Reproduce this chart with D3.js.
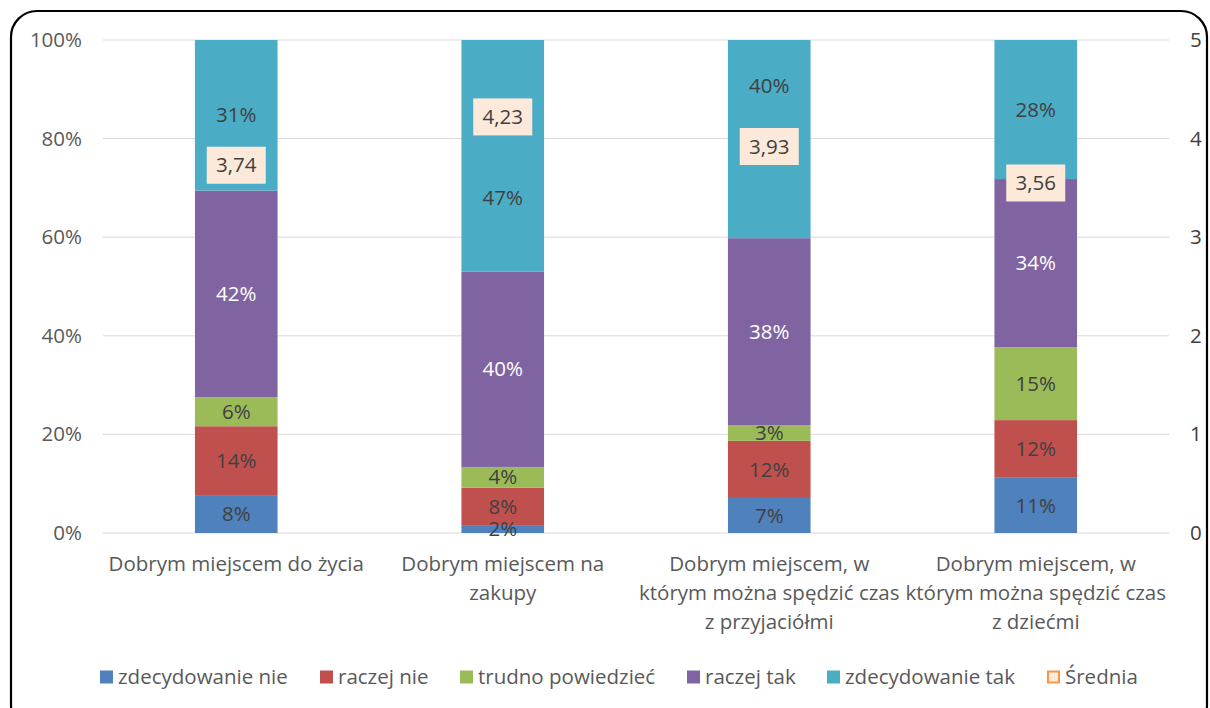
<!DOCTYPE html>
<html>
<head>
<meta charset="utf-8">
<script src="https://cdn.jsdelivr.net/npm/d3@7"></script>
<style>
  body { margin: 0; background: #fff; }
  svg text { font-family: "Open Sans", sans-serif; }
</style>
</head>
<body>
<div id="chart"></div>
<script>
// Categories (already wrapped into lines as in the original)
const categories = [
  ["Dobrym miejscem do życia"],
  ["Dobrym miejscem na", "zakupy"],
  ["Dobrym miejscem, w", "którym można spędzić czas", "z przyjaciółmi"],
  ["Dobrym miejscem, w", "którym można spędzić czas", "z dziećmi"]
];

const seriesNames = ["zdecydowanie nie", "raczej nie", "trudno powiedzieć", "raczej tak", "zdecydowanie tak"];

// Shares in %
const zdecydowanieNie = [7.7, 1.6, 7.1, 11.2];
const raczejNie = [14.0, 7.6, 11.6, 11.7];
const trudnoPowiedziec = [5.9, 4.2, 3.2, 14.8];
const raczejTak = [42.0, 39.6, 37.9, 34.1];
const zdecydowanieTak = [30.6, 47.0, 40.2, 28.2];

// Average score (right axis, 0-5)
const srednia = [3.74, 4.23, 3.93, 3.56];

const leftTicks = [0, 0.2, 0.4, 0.6, 0.8, 1];
const rightTicks = [0, 1, 2, 3, 4, 5];

const colors = ["#4F81BD", "#C0504D", "#9BBB59", "#8064A2", "#4BACC6"];
const labelColors = ["#404040", "#404040", "#404040", "#ffffff", "#404040"];

const W = 1210, H = 708;
const margin = { top: 40, right: 41, bottom: 175, left: 103 };
const width = W - margin.left - margin.right;
const height = H - margin.top - margin.bottom;
const fontSize = "20.5px";

const svg = d3.select("#chart").append("svg")
  .attr("width", W)
  .attr("height", H);

// Chart border
svg.append("rect")
  .attr("x", 11).attr("y", 11)
  .attr("width", 1196).attr("height", 720)
  .attr("rx", 26).attr("ry", 26)
  .attr("fill", "none")
  .attr("stroke", "#000")
  .attr("stroke-width", 2.2);

const g = svg.append("g")
  .attr("transform", `translate(${margin.left},${margin.top})`);

// Build table for stacking
const table = categories.map((c, i) => {
  const row = { index: i };
  const vals = [zdecydowanieNie[i], raczejNie[i], trudnoPowiedziec[i], raczejTak[i], zdecydowanieTak[i]];
  const total = d3.sum(vals);
  seriesNames.forEach((s, j) => { row[s] = vals[j] / total; row[s + "_raw"] = vals[j]; });
  return row;
});

const stacked = d3.stack().keys(seriesNames)(table);

const x = d3.scaleBand()
  .domain(categories.map((c, i) => i))
  .range([0, width])
  .paddingInner(0.69)
  .paddingOuter(0.345);

const y = d3.scaleLinear().domain([0, 1]).range([height, 0]);
const y2 = d3.scaleLinear().domain([0, 5]).range([height, 0]);

// Gridlines
g.append("g")
  .selectAll("line")
  .data(leftTicks)
  .join("line")
  .attr("x1", 0).attr("x2", width)
  .attr("y1", d => y(d)).attr("y2", d => y(d))
  .attr("stroke", "#d9d9d9")
  .attr("stroke-width", 1);

// Left axis
const leftAxis = g.append("g")
  .call(d3.axisLeft(y).tickValues(leftTicks).tickFormat(d3.format(".0%")).tickSize(0).tickPadding(21));
leftAxis.select(".domain").remove();
leftAxis.selectAll("text")
  .attr("fill", "#595959")
  .style("font-size", fontSize);

// Right axis
const rightAxis = g.append("g")
  .attr("transform", `translate(${width},0)`)
  .call(d3.axisRight(y2).tickValues(rightTicks).tickFormat(d3.format("d")).tickSize(0).tickPadding(21));
rightAxis.select(".domain").remove();
rightAxis.selectAll("text")
  .attr("fill", "#404040")
  .style("font-size", fontSize);

// Bars
const layer = g.selectAll(".layer")
  .data(stacked)
  .join("g")
  .attr("class", "layer")
  .attr("fill", (d, i) => colors[i]);

layer.selectAll("rect")
  .data(d => d)
  .join("rect")
  .attr("x", d => x(d.data.index))
  .attr("width", x.bandwidth())
  .attr("y", d => y(d[1]))
  .attr("height", d => y(d[0]) - y(d[1]));

// Średnia boxes (line series with hidden line, labels only)
const boxH = 37;
const avgY = srednia.map(v => y2(v) + 1);

// Segment labels; a label too close to the average box moves into the larger free part of its segment
stacked.forEach((s, j) => {
  g.append("g")
    .selectAll("text")
    .data(s)
    .join("text")
    .attr("x", d => x(d.data.index) + x.bandwidth() / 2)
    .attr("y", d => {
      const top = y(d[1]), bottom = y(d[0]);
      let cy = (top + bottom) / 2;
      const a = avgY[d.data.index];
      const bTop = a - boxH / 2, bBottom = a + boxH / 2;
      if (Math.abs(cy - a) < boxH / 2 + 25 && bTop < bottom && bBottom > top) {
        cy = (bTop - top) > (bottom - bBottom) ? (top + bTop) / 2 + 2 : (bBottom + bottom) / 2 - 6;
      }
      return cy;
    })
    .attr("dy", "0.35em")
    .attr("text-anchor", "middle")
    .attr("fill", labelColors[j])
    .style("font-size", fontSize)
    .text(d => Math.round(d.data[s.key + "_raw"]) + "%");
});

const fmt = v => v.toFixed(2).replace(".", ",");
const avg = g.append("g")
  .selectAll("g")
  .data(srednia)
  .join("g")
  .attr("transform", (d, i) => `translate(${x(i) + x.bandwidth() / 2},${avgY[i]})`);
avg.append("rect")
  .attr("x", -29.5).attr("y", -boxH / 2)
  .attr("width", 59).attr("height", boxH)
  .attr("fill", "#FDE9D9");
avg.append("text")
  .attr("dy", "0.35em")
  .attr("text-anchor", "middle")
  .attr("fill", "#404040")
  .style("font-size", fontSize)
  .text(d => fmt(d));

// Category labels
const catG = g.append("g")
  .attr("transform", `translate(0,${height})`);
categories.forEach((lines, i) => {
  const t = catG.append("text")
    .attr("text-anchor", "middle")
    .attr("fill", "#595959")
    .style("font-size", fontSize);
  lines.forEach((ln, k) => {
    t.append("tspan")
      .attr("x", x(i) + x.bandwidth() / 2)
      .attr("y", 38 + k * 29)
      .text(ln);
  });
});

// Legend
const legendItems = seriesNames.map((s, i) => ({ name: s, fill: colors[i], stroke: "none" }))
  .concat([{ name: "Średnia", fill: "#FDE9D9", stroke: "#F79646" }]);
const legendX = [100, 320, 460, 687, 827, 1047];
const legend = svg.append("g")
  .selectAll("g")
  .data(legendItems)
  .join("g")
  .attr("transform", (d, i) => `translate(${legendX[i]},677)`);
legend.append("rect")
  .attr("x", d => d.stroke === "none" ? 0 : 1)
  .attr("y", d => d.stroke === "none" ? -6.5 : -5.5)
  .attr("width", d => d.stroke === "none" ? 13 : 11)
  .attr("height", d => d.stroke === "none" ? 13 : 11)
  .attr("fill", d => d.fill)
  .attr("stroke", d => d.stroke)
  .attr("stroke-width", 2);
legend.append("text")
  .attr("x", 18)
  .attr("dy", "0.35em")
  .attr("fill", "#595959")
  .style("font-size", fontSize)
  .text(d => d.name);
</script>
</body>
</html>
